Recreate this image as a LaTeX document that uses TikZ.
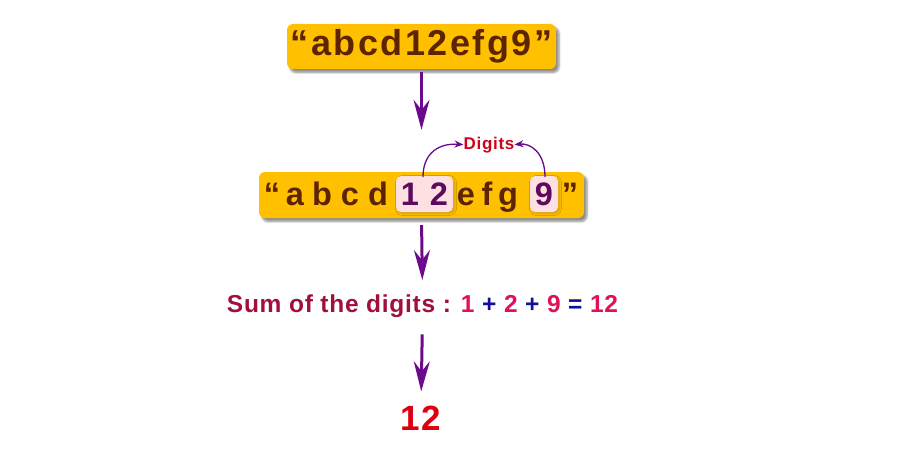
\documentclass[tikz,border=0pt]{standalone}
\usepackage{fontspec}
\setmainfont{Liberation Sans}
\newfontfamily\wideA{Liberation Sans}[LetterSpace=7]
\newfontfamily\wideC{Liberation Sans}[LetterSpace=4]
\newfontfamily\wideB{Liberation Sans}[LetterSpace=3]
\usetikzlibrary{arrows.meta,shadows.blur}
\definecolor{gold}{HTML}{FFC000}
\definecolor{brownT}{HTML}{5C2400}
\definecolor{purpA}{HTML}{6C0A8C}
\definecolor{purpT}{HTML}{5E0A5E}
\definecolor{pinkH}{HTML}{FFE0E2}
\definecolor{redD}{HTML}{D0021B}
\definecolor{sumR}{HTML}{A0103A}
\definecolor{digR}{HTML}{E0105A}
\definecolor{opB}{HTML}{10109A}
\definecolor{finR}{HTML}{DD0010}
\tikzset{
  goldbox/.style={fill=gold, rounded corners=6pt, draw=none, inner sep=0pt,
    blur shadow={shadow xshift=3pt, shadow yshift=-3.5pt, shadow blur steps=6, shadow opacity=45}},
  hibox/.style={fill=pinkH, rounded corners=5pt, draw=none, inner sep=0pt,
    blur shadow={shadow xshift=1.5pt, shadow yshift=-1.5pt, shadow blur steps=4, shadow opacity=18}},
  bigarr/.style={draw=purpA, line width=3pt, -{Stealth[length=30pt,width=16pt,inset=10pt]}},
  thinarr/.style={draw=purpA, line width=1.3pt, -{Stealth[length=9pt,width=7pt,inset=3pt]}},
  chr/.style={anchor=base, inner sep=0pt, font=\fontsize{32.5}{34}\selectfont\bfseries},
}
\begin{document}
\begin{tikzpicture}[x=1pt,y=-1pt]
\useasboundingbox (0,0) rectangle (907,460);
% box 1
\node[goldbox, minimum width=269pt, minimum height=45pt] (b1) at (421.5,46.5) {};
\node[anchor=base, inner sep=0pt, text=brownT, font=\fontsize{36}{38}\wideA\bfseries] (t1) at (421.5,56) {“abcd12efg9”};
% box 2
\node[goldbox, minimum width=325pt, minimum height=46pt] (b2) at (421.5,195) {};
\node[hibox, minimum width=57pt, minimum height=36pt] (h1) at (424.5,194) {};
\node[hibox, minimum width=28pt, minimum height=36pt] (h2) at (544,194) {};
\foreach \x/\c/\n in {272/“/1,295/a/2,322/b/3,350/c/4,378/d/5,466/e/8,487/f/9,508/g/10,570/”/12}
  \node[chr, text=brownT] (c\n) at (\x,205) {\c};
\foreach \x/\c/\n in {410/1/6,439/2/7,544/9/11}
  \node[chr, text=purpT] (c\n) at (\x,205) {\c};
% digits label
\node[anchor=base, inner sep=0pt, text=redD, font=\fontsize{17}{19}\wideC\bfseries] (dg) at (489,149) {Digits};
\draw[thinarr] (423,177) .. controls (423,152) and (440,143) .. (dg.west);
\draw[thinarr] (545,177) .. controls (545,152) and (530,143) .. (dg.east);
% sum line
\node[anchor=base, inner sep=0pt, font=\fontsize{24.5}{27}\wideB\bfseries] (s) at (422.5,312)
  {\textcolor{sumR}{Sum of the digits :} \textcolor{digR}{1} \textcolor{opB}{+} \textcolor{digR}{2} \textcolor{opB}{+} \textcolor{digR}{9} \textcolor{opB}{=} \textcolor{digR}{12}};
% result
\node[anchor=base, inner sep=0pt, text=finR, font=\fontsize{35}{38}\wideC\bfseries] (r) at (421,430) {12};
% arrows
\draw[bigarr, shorten <=3pt, shorten >=42pt] (b1.south) -- (b2.north);
\draw[bigarr, shorten <=7pt, shorten >=14pt] (b2.south) -- (s.north);
\draw[bigarr, shorten <=17pt, shorten >=14pt] (s.south) -- (r.north);
\end{tikzpicture}
\end{document}
